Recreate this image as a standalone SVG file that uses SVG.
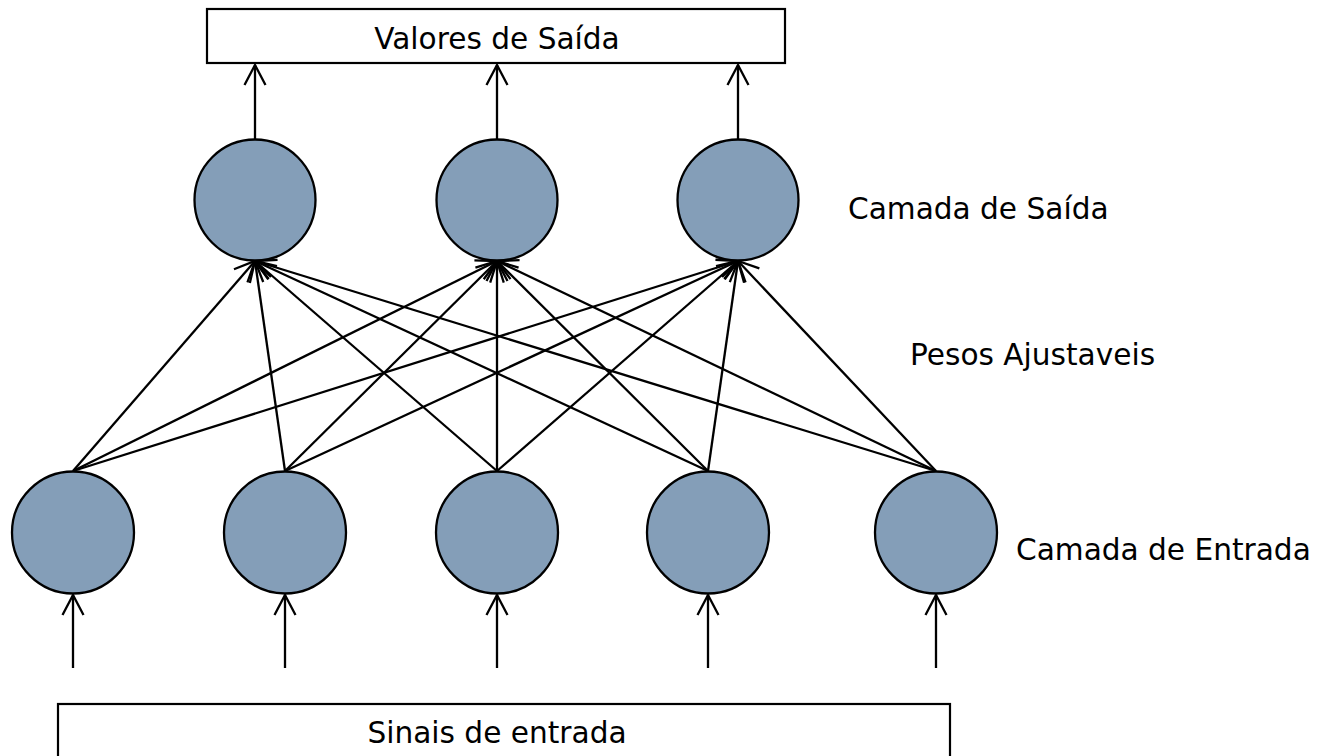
<svg xmlns="http://www.w3.org/2000/svg" width="1322" height="756" viewBox="0 0 1322 756">
  <style>
    .box { fill: #ffffff; stroke: #000000; stroke-width: 2.2; }
    .neuron { fill: #849eb8; stroke: #000000; stroke-width: 2.3; }
    .lbl { font-family: "DejaVu Sans", Verdana, sans-serif; font-size: 29.6px; fill: #000000; }
    .edge { stroke: #000000; stroke-width: 2.3; fill: none; marker-end: url(#arrow); }
  </style>
  <defs>
    <marker id="arrow" viewBox="-24 -13 26 26" markerWidth="26" markerHeight="26" markerUnits="userSpaceOnUse" refX="0" refY="0" orient="auto">
      <path d="M-20,-10.5 L0,0 L-20,10.5" fill="none" stroke="#000000" stroke-width="2.3"/>
    </marker>
  </defs>
  <rect width="1322" height="756" fill="#ffffff"/>

  <g id="connectors">
    <line class="edge" x1="73" y1="668" x2="73" y2="595"/>
    <line class="edge" x1="285" y1="668" x2="285" y2="595"/>
    <line class="edge" x1="497" y1="668" x2="497" y2="595"/>
    <line class="edge" x1="708" y1="668" x2="708" y2="595"/>
    <line class="edge" x1="936" y1="668" x2="936" y2="595"/>
    <line class="edge" x1="255" y1="139" x2="255" y2="65"/>
    <line class="edge" x1="497" y1="139" x2="497" y2="65"/>
    <line class="edge" x1="738" y1="139" x2="738" y2="65"/>
    <line class="edge" x1="73" y1="471" x2="255" y2="261"/>
    <line class="edge" x1="73" y1="471" x2="497" y2="261"/>
    <line class="edge" x1="73" y1="471" x2="738" y2="261"/>
    <line class="edge" x1="285" y1="471" x2="255" y2="261"/>
    <line class="edge" x1="285" y1="471" x2="497" y2="261"/>
    <line class="edge" x1="285" y1="471" x2="738" y2="261"/>
    <line class="edge" x1="497" y1="471" x2="255" y2="261"/>
    <line class="edge" x1="497" y1="471" x2="497" y2="261"/>
    <line class="edge" x1="497" y1="471" x2="738" y2="261"/>
    <line class="edge" x1="708" y1="471" x2="255" y2="261"/>
    <line class="edge" x1="708" y1="471" x2="497" y2="261"/>
    <line class="edge" x1="708" y1="471" x2="738" y2="261"/>
    <line class="edge" x1="936" y1="471" x2="255" y2="261"/>
    <line class="edge" x1="936" y1="471" x2="497" y2="261"/>
    <line class="edge" x1="936" y1="471" x2="738" y2="261"/>
  </g>

  <g id="output-values">
    <rect class="box" x="207" y="9" width="578" height="54"/>
    <text class="lbl" x="497" y="49" text-anchor="middle">Valores de Saída</text>
  </g>

  <g id="out1"><circle class="neuron" cx="255" cy="200" r="60.5"/></g>
  <g id="out2"><circle class="neuron" cx="497" cy="200" r="60.5"/></g>
  <g id="out3"><circle class="neuron" cx="738" cy="200" r="60.5"/></g>

  <g id="in1"><circle class="neuron" cx="73" cy="532.5" r="61"/></g>
  <g id="in2"><circle class="neuron" cx="285" cy="532.5" r="61"/></g>
  <g id="in3"><circle class="neuron" cx="497" cy="532.5" r="61"/></g>
  <g id="in4"><circle class="neuron" cx="708" cy="532.5" r="61"/></g>
  <g id="in5"><circle class="neuron" cx="936" cy="532.5" r="61"/></g>

  <g id="label-output-layer"><text class="lbl" x="848" y="219">Camada de Saída</text></g>
  <g id="label-weights"><text class="lbl" x="910" y="365">Pesos Ajustaveis</text></g>
  <g id="label-input-layer"><text class="lbl" x="1016" y="560">Camada de Entrada</text></g>

  <g id="input-signals">
    <rect class="box" x="58" y="704" width="892" height="56"/>
    <text class="lbl" x="497" y="743" text-anchor="middle">Sinais de entrada</text>
  </g>
</svg>
